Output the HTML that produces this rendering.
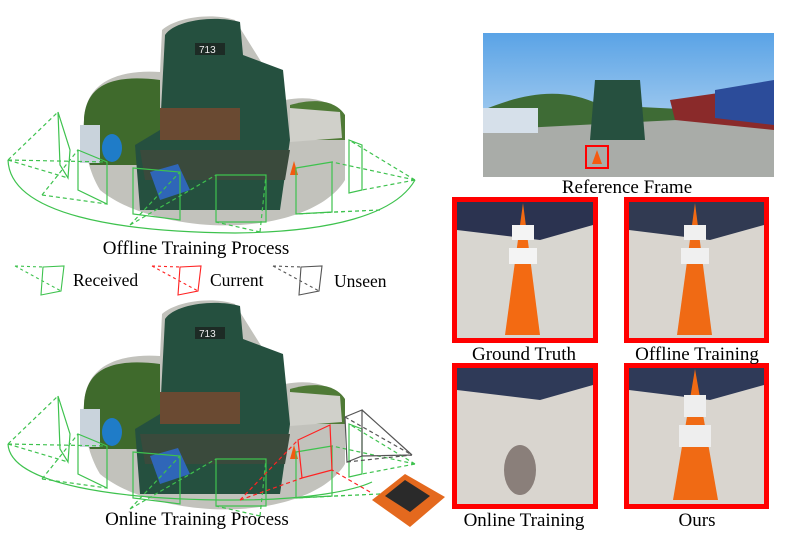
<!DOCTYPE html>
<html><head><meta charset="utf-8"><style>
body{margin:0;background:#fff}
svg{display:block}
text{font-family:"Liberation Serif",serif;fill:#000}
</style></head><body>
<svg width="791" height="539" viewBox="0 0 791 539" xmlns="http://www.w3.org/2000/svg">
<defs>
<g id="scene">
  <path d="M84,120 C86,75 130,70 160,72 L162,30 C175,18 210,12 235,20 L285,100 C310,95 335,100 345,120 L345,180 C330,205 290,222 240,225 C190,228 130,215 100,190 C88,170 83,145 84,120Z" fill="#c2c2bc"/>
  <path d="M84,120 C86,80 120,75 160,80 L160,165 L90,165 C85,150 83,135 84,120Z" fill="#3f6a2c"/>
  <path d="M290,105 C315,98 335,100 345,115 L345,140 L290,140Z" fill="#4f7a36"/>
  <rect x="80" y="125" width="20" height="38" fill="#c9d3dc"/>
  <ellipse cx="112" cy="148" rx="10" ry="14" fill="#1f7cc8"/>
  <path d="M165,35 C175,20 215,15 240,22 L243,55 L283,70 L290,140 L280,210 L140,210 L135,145 L160,130Z" fill="#25503f"/>
  <path d="M160,108 L240,108 L240,140 L160,140Z" fill="#6a4a32"/>
  <path d="M290,108 L340,112 L342,138 L290,142Z" fill="#d0d0ca"/>
  <path d="M140,150 L290,150 L285,180 L145,180Z" fill="#3a4a3c"/>
  <path d="M150,172 L178,164 L190,190 L160,200Z" fill="#2f66b8"/>
  <rect x="195" y="43" width="30" height="12" fill="#1d2b25"/>
  <text x="199" y="53" font-size="10" style="fill:#eee;font-family:'Liberation Sans',sans-serif">713</text>
  <path d="M290,175 l4,-14 l4,14Z" fill="#f35a10"/>
  <g fill="none" stroke="#3ec24e" stroke-width="1.2">
    <path d="M58,112 L70,150 L68,178 L60,165Z M78,150 L107,162 L107,204 L78,190Z M133,168 L180,172 L180,220 L133,214Z M216,175 L266,175 L266,222 L216,222Z M296,168 L332,162 L332,212 L296,214Z M349,140 L362,145 L362,190 L349,193Z"/>
    <g stroke-dasharray="4,3">
      <path d="M8,160 L58,112 M8,160 L68,178 M8,160 L107,162 M42,195 L107,204 M42,195 L78,150 M130,225 L180,172 M130,225 L216,175 M260,232 L266,175 M260,232 L216,222 M415,180 L349,140 M415,180 L362,190 M415,180 L332,162 M380,210 L296,214 M380,210 L332,212"/>
    </g>
  </g>
</g>
<linearGradient id="sky" x1="0" y1="0" x2="0" y2="1"><stop offset="0" stop-color="#5aa3e6"/><stop offset="1" stop-color="#cfe4f5"/></linearGradient>
</defs>

<use href="#scene"/>
<path d="M8,160 C10,215 120,232 235,233 C330,232 395,215 415,180" fill="none" stroke="#3ec24e" stroke-width="1.2"/>
<use href="#scene" transform="translate(0,284)"/>
<path d="M8,444 C10,485 120,500 235,500 C310,500 355,490 372,482" fill="none" stroke="#3ec24e" stroke-width="1.2"/>

<!-- bottom extras: current red, unseen gray -->
<g fill="none" stroke-width="1.2">
  <path d="M298,440 L330,425 L332,470 L302,478Z" stroke="#f22"/>
  <path d="M240,500 L298,440 M240,500 L302,478 M370,492 L332,470" stroke="#f22" stroke-dasharray="4,3"/>
  <path d="M345,417 L362,410 L362,456 L347,462Z M362,410 L412,455 M362,456 L412,455" stroke="#555"/>
  <path d="M345,417 L412,455 M347,462 L412,455" stroke="#555" stroke-dasharray="4,3"/>
</g>
<path d="M372,500 L405,474 L445,497 L410,527Z" fill="#e4691e"/>
<path d="M385,496 L405,480 L430,496 L410,512Z" fill="#2a2a2a"/>

<text x="196" y="254" font-size="19" text-anchor="middle">Offline Training Process</text>
<text x="197" y="525" font-size="19" text-anchor="middle">Online Training Process</text>

<!-- legend -->
<g fill="none" stroke-width="1.1">
  <path d="M43,267 L64,266 L61,291 L41,295Z" stroke="#3ec24e"/>
  <path d="M15,266 L43,267 M15,266 L61,291" stroke="#3ec24e" stroke-dasharray="3,3"/>
  <path d="M180,267 L201,266 L198,291 L178,295Z" stroke="#f22"/>
  <path d="M152,266 L180,267 M152,266 L198,291" stroke="#f22" stroke-dasharray="3,3"/>
  <path d="M301,267 L322,266 L319,291 L299,295Z" stroke="#555"/>
  <path d="M273,266 L301,267 M273,266 L319,291" stroke="#555" stroke-dasharray="3,3"/>
</g>
<text x="73" y="286" font-size="17.5">Received</text>
<text x="210" y="286" font-size="17.5">Current</text>
<text x="334" y="287" font-size="17.5">Unseen</text>

<!-- reference frame -->
<rect x="483" y="33" width="291" height="144" fill="url(#sky)"/>
<path d="M483,110 C520,95 560,85 600,105 L700,110 L774,95 L774,177 L483,177Z" fill="#3e6b35"/>
<path d="M483,130 L774,115 L774,177 L483,177Z" fill="#a9aca8"/>
<rect x="483" y="108" width="55" height="25" fill="#d6e0ea"/>
<path d="M595,80 L640,80 L645,140 L590,140Z" fill="#26503f"/>
<path d="M670,100 L774,85 L774,130 L675,120Z" fill="#8a2a2a"/>
<path d="M715,90 L774,80 L774,125 L715,118Z" fill="#2c4c9a"/>
<rect x="586" y="146" width="22" height="22" fill="none" stroke="#f00" stroke-width="2"/>
<path d="M597,150 l-5,14 h10Z" fill="#f55a10"/>
<text x="627" y="193" font-size="19" text-anchor="middle">Reference Frame</text>

<!-- crops -->
<g>
  <rect x="452" y="197" width="146" height="146" fill="#f00"/>
  <rect x="457" y="202" width="136" height="136" fill="#d8d6d0"/>
  <path d="M457,202 H593 V225 L540,240 L457,230Z" fill="#2b3350"/>
  <path d="M523,203 L540,335 L505,335Z" fill="#f36a12"/>
  <rect x="512" y="225" width="22" height="15" fill="#f4f4f4"/><rect x="509" y="248" width="28" height="16" fill="#f4f4f4"/>

  <rect x="624" y="197" width="145" height="146" fill="#f00"/>
  <rect x="629" y="202" width="135" height="136" fill="#d9d5cf"/>
  <path d="M629,202 H764 V225 L710,240 L629,230Z" fill="#313a52"/>
  <path d="M695,203 L712,335 L677,335Z" fill="#f06a14"/>
  <rect x="684" y="225" width="22" height="15" fill="#f0f0f0"/><rect x="681" y="248" width="28" height="16" fill="#f0f0f0"/>

  <rect x="452" y="363" width="146" height="146" fill="#f00"/>
  <rect x="457" y="368" width="136" height="136" fill="#d9d5cf"/>
  <path d="M457,368 H593 V385 L540,400 L457,390Z" fill="#2f3a58"/>
  <ellipse cx="520" cy="470" rx="16" ry="25" fill="#8a7f7a"/>

  <rect x="624" y="363" width="145" height="146" fill="#f00"/>
  <rect x="629" y="368" width="135" height="136" fill="#d9d5cf"/>
  <path d="M629,368 H764 V385 L710,400 L629,390Z" fill="#2f3a58"/>
  <path d="M695,369 L718,500 L673,500Z" fill="#f06a14"/>
  <rect x="684" y="395" width="22" height="22" fill="#eeeeee"/><rect x="679" y="425" width="32" height="22" fill="#eeeeee"/>
</g>
<text x="524" y="360" font-size="19" text-anchor="middle">Ground Truth</text>
<text x="697" y="360" font-size="19" text-anchor="middle">Offline Training</text>
<text x="524" y="526" font-size="19" text-anchor="middle">Online Training</text>
<text x="697" y="526" font-size="19" text-anchor="middle">Ours</text>
</svg>
</body></html>
